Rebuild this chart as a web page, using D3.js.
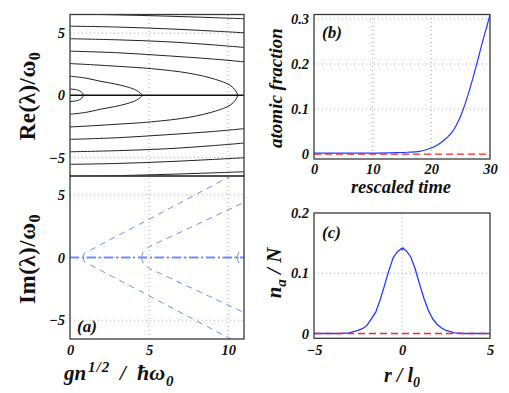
<!DOCTYPE html>
<head>
<meta charset="utf-8">
<script src="https://d3js.org/d3.v7.min.js"></script>
<style>
body { margin: 0; background: #fff; }
svg { display: block; }
</style>
</head>
<body>
<svg width="509" height="393"></svg>
<script>
// panel (a) top: Re(lambda)/omega0, upper half of each branch (lower half is its mirror)
var reLoop1 = [[0,0.5],[0.35,0.46],[0.6,0.36],[0.75,0.22],[0.84,0]];
var reLoop2 = [[0,1.53],[1,1.38],[1.9,1.13],[2.8,0.92],[3.59,0.68],[4.22,0.38],[4.54,0]];
var reLoop3 = [[0,2.55],[1.5,2.45],[3,2.33],[4.6,2.2],[5.7,2.07],[7,1.88],[8,1.66],[8.86,1.4],[9.5,1.15],[9.92,0.94],[10.3,0.62],[10.59,0]];
var reLine4 = [[0,3.55],[3,3.42],[6.08,3.18],[9,2.92],[11,2.69]];
var reLine5 = [[0,4.55],[3,4.46],[6.08,4.31],[9,4.06],[11,3.85]];
var reLine6 = [[0,5.56],[3,5.49],[6.08,5.35],[9,5.17],[11,5.03]];
var reLine7 = [[0,6.55],[3,6.47],[6.08,6.37],[9,6.25],[11,6.16]];
var reZero = [[0,0],[11,0]];

// panel (a) bottom: Im(lambda)/omega0
var imBranch1 = [[0.84,0],[0.86,0.2],[0.92,0.36],[1.05,0.47],[1.33,0.62],[2,1.07],[4.92,3.0],[9.49,6.05],[10.2,6.5]];
var imBranch2 = [[4.54,0],[4.56,0.25],[4.65,0.5],[4.85,0.72],[5.02,0.88],[5.7,1.27],[8,2.62],[10.55,4.12],[11,4.4]];
var imBranch3 = [[10.59,0],[10.61,0.25],[10.7,0.45],[10.85,0.6],[11,0.7]];
var imZero = [[0,0],[11,0]];

// panel (b)
var timeB = [0,5,10,14,16,18,19,20.3,21.5,22.55,23.5,24.26,25.4,26.5,27.7,28.8,29.5,30];
var fracB = [0.002,0.002,0.002,0.003,0.004,0.006,0.009,0.015,0.024,0.035,0.048,0.064,0.098,0.142,0.198,0.253,0.285,0.31];
var refTimeB = [0,30];
var refFracB = [0,0];

// panel (c)
var rC = [-5,-4,-3.5,-3,-2.75,-2.5,-2.25,-2,-1.75,-1.5,-1.25,-1,-0.75,-0.5,-0.35,-0.25,-0.15,-0.05,0,0.05,0.15,0.25,0.5,0.75,1,1.25,1.5,1.75,2,2.25,2.5,2.75,3,3.5,4,5];
var naC = [0,0,0,0.001,0.003,0.005,0.008,0.013,0.024,0.035,0.055,0.079,0.104,0.126,0.132,0.136,0.138,0.141,0.139,0.142,0.139,0.137,0.127,0.107,0.082,0.058,0.038,0.024,0.015,0.009,0.005,0.003,0.001,0,0,0];
var refRC = [-5,5];
var refNaC = [0,0];

var ticksAx = [0,5,10];
var ticksAy = [-5,0,5];
var ticksBx = [0,10,20,30];
var ticksBy = [0,0.1,0.2,0.3];
var ticksCx = [-5,0,5];
var ticksCy = [0,0.1,0.2];

var serif = '"Liberation Serif", "Times New Roman", Times, serif';
var svg = d3.select("svg");
var blue = "#1f3cff", lightBlue = "#6f8cff", red = "#ff2020";

function fmt(d) { return d < 0 ? "\u2212" + Math.abs(d) : String(d); }

function styleTicks(a) {
  a.select(".domain").remove();
  a.selectAll("text").style("font-family", serif).style("font-weight", "bold")
    .style("font-style", "italic").style("font-size", "14.5px").attr("fill", "#111");
}

function panel(id, x, y, xt, yt, gx, gy, showX, pad) {
  var g = svg.append("g");
  var x0 = x.range()[0], x1 = x.range()[1], y0 = y.range()[0], y1 = y.range()[1];
  g.append("clipPath").attr("id", id).append("rect")
    .attr("x", x0).attr("y", y1).attr("width", x1 - x0).attr("height", y0 - y1);
  g.selectAll(".gx").data(gx).enter().append("line")
    .attr("x1", x).attr("x2", x).attr("y1", y0).attr("y2", y1)
    .attr("stroke", "#aaa").attr("stroke-dasharray", "1,3");
  g.selectAll(".gy").data(gy).enter().append("line")
    .attr("y1", y).attr("y2", y).attr("x1", x0).attr("x2", x1)
    .attr("stroke", "#aaa").attr("stroke-dasharray", "1,3");
  g.append("g").attr("transform", "translate(" + x0 + ",0)")
    .call(d3.axisLeft(y).tickValues(yt).tickSize(0).tickPadding(5).tickFormat(fmt))
    .call(styleTicks);
  if (showX) {
    g.append("g").attr("transform", "translate(0," + y0 + ")")
      .call(d3.axisBottom(x).tickValues(xt).tickSize(0).tickPadding(pad || 6).tickFormat(fmt))
      .call(styleTicks);
  }
  var plot = g.append("g").attr("clip-path", "url(#" + id + ")");
  g.append("rect")
    .attr("x", x0).attr("y", y1).attr("width", x1 - x0).attr("height", y0 - y1)
    .attr("fill", "none").attr("stroke", "#3a3a3a").attr("stroke-width", 1.3);
  return plot;
}

var xA = d3.scaleLinear().domain([0, 11]).range([70, 244]);
var yAtop = d3.scaleLinear().domain([-6.5, 6.5]).range([176, 14.5]);
var yAbot = d3.scaleLinear().domain([-6.5, 6.5]).range([339, 176]);

// panel (a) top
var pTop = panel("clipTop", xA, yAtop, ticksAx, ticksAy, [5, 10], [-5, 0, 5], false);
var lineTop = d3.line().x(function(d) { return xA(d[0]); }).y(function(d) { return yAtop(d[1]); })
  .curve(d3.curveCatmullRom);
function mirror(c) {
  return c.concat(c.slice(0, -1).reverse().map(function(d) { return [d[0], -d[1]]; }));
}
[reLoop1, reLoop2, reLoop3].forEach(function(c) {
  pTop.append("path").attr("d", lineTop(mirror(c))).attr("fill", "none").attr("stroke", "#222").attr("stroke-width", 1);
});
[reLine4, reLine5, reLine6, reLine7].forEach(function(c) {
  pTop.append("path").attr("d", lineTop(c)).attr("fill", "none").attr("stroke", "#222").attr("stroke-width", 1);
  pTop.append("path").attr("d", lineTop(c.map(function(d) { return [d[0], -d[1]]; })))
    .attr("fill", "none").attr("stroke", "#222").attr("stroke-width", 1);
});
pTop.append("path").attr("d", lineTop(reZero)).attr("fill", "none").attr("stroke", "#111").attr("stroke-width", 1.3);

// panel (a) bottom
var pBot = panel("clipBot", xA, yAbot, ticksAx, ticksAy, [5, 10], [-5, 0, 5], true);
var lineBot = d3.line().x(function(d) { return xA(d[0]); }).y(function(d) { return yAbot(d[1]); });
[imBranch1, imBranch2, imBranch3].forEach(function(c) {
  pBot.append("path").attr("d", lineBot(c)).attr("fill", "none").attr("stroke", lightBlue)
    .attr("stroke-width", 1).attr("stroke-dasharray", "6,5");
  pBot.append("path").attr("d", lineBot(c.map(function(d) { return [d[0], -d[1]]; })))
    .attr("fill", "none").attr("stroke", lightBlue).attr("stroke-width", 1).attr("stroke-dasharray", "6,5");
});
pBot.append("path").attr("d", lineBot(imZero)).attr("fill", "none").attr("stroke", lightBlue)
  .attr("stroke-width", 2.2).attr("stroke-dasharray", "9,3,2,3");

// panel (b)
var xB = d3.scaleLinear().domain([0, 30]).range([314, 490]);
var yB = d3.scaleLinear().domain([-0.011, 0.31]).range([159, 14.5]);
var pB = panel("clipB", xB, yB, ticksBx, ticksBy, [10, 20], [0.1, 0.2, 0.3], true, 5);
var lineB = d3.line().x(function(d, i) { return xB(timeB[i]); }).y(function(d) { return yB(d); }).curve(d3.curveMonotoneX);
pB.append("path").attr("d", lineB(fracB)).attr("fill", "none").attr("stroke", blue).attr("stroke-width", 1.2);
pB.append("path").attr("d", d3.line().x(function(d, i) { return xB(refTimeB[i]); }).y(function(d) { return yB(d); })(refFracB))
  .attr("fill", "none").attr("stroke", red).attr("stroke-width", 1.3).attr("stroke-dasharray", "7,4");

// panel (c)
var xC = d3.scaleLinear().domain([-5, 5]).range([314, 490]);
var yC = d3.scaleLinear().domain([-0.008, 0.2]).range([338.3, 213]);
var pC = panel("clipC", xC, yC, ticksCx, ticksCy, [0], [0.1], true);
var lineC = d3.line().x(function(d, i) { return xC(rC[i]); }).y(function(d) { return yC(d); });
pC.append("path").attr("d", lineC(naC)).attr("fill", "none").attr("stroke", blue).attr("stroke-width", 1.3);
pC.append("path").attr("d", d3.line().x(function(d, i) { return xC(refRC[i]); }).y(function(d) { return yC(d); })(refNaC))
  .attr("fill", "none").attr("stroke", red).attr("stroke-width", 1.6).attr("stroke-dasharray", "7,4");

// labels
function label(size, style) {
  return svg.append("text").style("font-family", serif).style("font-weight", "bold")
    .style("font-style", style).style("font-size", size + "px").attr("fill", "#111");
}
function ylab(x, y, size, style) {
  return label(size, style).attr("transform", "translate(" + x + "," + y + ") rotate(-90)")
    .attr("text-anchor", "middle");
}
var t1 = ylab(35, 96, 23, "normal").style("letter-spacing", "0.5px");
t1.append("tspan").text("Re(\u03bb)/\u03c9");
t1.append("tspan").style("font-size", "16px").attr("dy", 5).text("0");
var t2 = ylab(35, 259, 23, "normal").style("letter-spacing", "0.5px");
t2.append("tspan").text("Im(\u03bb)/\u03c9");
t2.append("tspan").style("font-size", "16px").attr("dy", 5).text("0");
ylab(282, 88, 19, "italic").text("atomic fraction");
var t3 = ylab(281, 273, 21, "italic");
t3.append("tspan").text("n");
t3.append("tspan").style("font-size", "15px").attr("dy", 5).text("a");
t3.append("tspan").attr("dy", -5).text(" / N");

var xl = label(21, "italic");
xl.append("tspan").attr("x", 64).attr("y", 380).text("gn");
xl.append("tspan").attr("x", 88).attr("y", 372).style("font-size", "15px").style("letter-spacing", "1px").text("1/2");
xl.append("tspan").attr("x", 120).attr("y", 380).text("/");
xl.append("tspan").attr("x", 137).attr("y", 380).style("font-size", "22px").text("\u0127\u03c9");
xl.append("tspan").attr("x", 166).attr("y", 386).style("font-size", "15px").text("0");

label(18.5, "italic").attr("x", 401).attr("y", 193).attr("text-anchor", "middle").text("rescaled time");
var xl2 = label(20, "italic").attr("x", 402).attr("y", 382).attr("text-anchor", "middle");
xl2.append("tspan").text("r / l");
xl2.append("tspan").style("font-size", "14px").attr("dy", 5).text("0");

label(17, "italic").attr("x", 77).attr("y", 332).text("(a)");
label(17, "italic").attr("x", 322).attr("y", 38).text("(b)");
label(17, "italic").attr("x", 322).attr("y", 238).text("(c)");
</script>
</body>
